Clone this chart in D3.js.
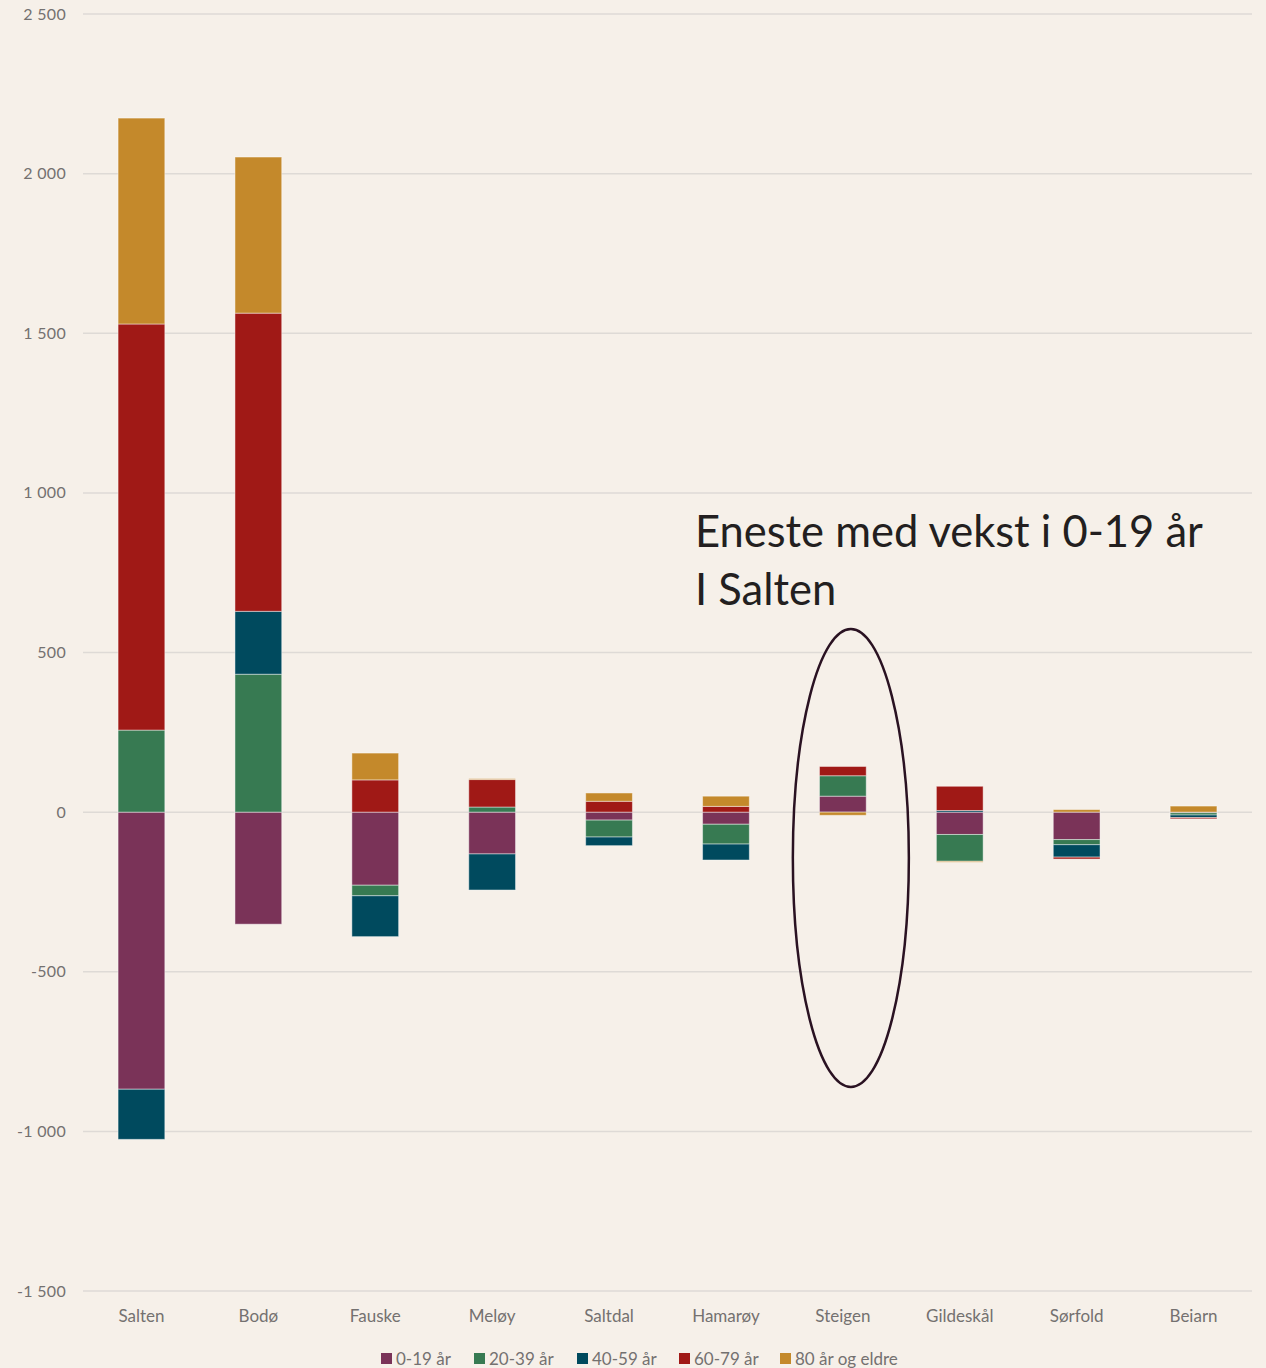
<!DOCTYPE html>
<html>
<head>
<meta charset="utf-8">
<title>Befolkningsendring Salten</title>
<script src="https://d3js.org/d3.v7.min.js"></script>
<style>
  html, body { margin: 0; padding: 0; background: #f6f0e9; }
  svg { display: block; font-family: "Lato", "Open Sans", sans-serif; }
</style>
</head>
<body>
<div id="chart"></div>
<script>
// data
const kommuner = ["Salten", "Bodø", "Fauske", "Meløy", "Saltdal", "Hamarøy", "Steigen", "Gildeskål", "Sørfold", "Beiarn"];
const grupper = ["0-19 år", "20-39 år", "40-59 år", "60-79 år", "80 år og eldre"];
const alder0_19  = [-868, -351, -229, -131, -25, -38,  50, -70, -86, -2];
const alder20_39 = [ 257,  432,  -33,   16, -53, -62,  64, -84, -16, -7];
const alder40_59 = [-157,  197, -128, -113, -27, -50,   0,   5, -39, -8];
const alder60_79 = [1272,  934,  101,   86,  34,  18,  29,  76,  -6, -4];
const alder80    = [ 645,  489,   84,    3,  26,  32, -10,  -3,   8, 19];
const yTicks = [-1500, -1000, -500, 0, 500, 1000, 1500, 2000, 2500];
const farger = ["#7a3358", "#377a52", "#004a5e", "#a01916", "#c4892b"];

const serier = [alder0_19, alder20_39, alder40_59, alder60_79, alder80];

const W = 1266, H = 1368;
const margin = {left: 83, right: 1252, top: 14, bottom: 1291};

const svg = d3.select("#chart").append("svg")
  .attr("width", W).attr("height", H);

svg.append("rect").attr("width", W).attr("height", H).attr("fill", "#f6f0e9");

const x = d3.scaleBand().domain(kommuner).range([margin.left, margin.right]).paddingInner(0.6).paddingOuter(0.3);
const y = d3.scaleLinear().domain([-1500, 2500]).range([margin.bottom, margin.top]);

// gridlines
svg.append("g").selectAll("line").data(yTicks).join("line")
  .attr("x1", margin.left).attr("x2", margin.right)
  .attr("y1", d => y(d)).attr("y2", d => y(d))
  .attr("stroke", "#dedad6").attr("stroke-width", 1.5);

// y axis labels, "2 500" / "-1 000" style
const fmt = d => (d < 0 ? "-" : "") + d3.format(",")(Math.abs(d)).replace(",", " ");
svg.append("g").selectAll("text").data(yTicks).join("text")
  .attr("x", 66).attr("y", d => y(d)).attr("dy", "0.35em")
  .attr("text-anchor", "end").attr("fill", "#747170").style("font-size", "16px")
  .style("letter-spacing", "0.3px")
  .text(d => fmt(d));

// stacked bars (positives up, negatives down, like Excel)
const rows = [];
kommuner.forEach((k, i) => {
  let pos = 0, neg = 0;
  serier.forEach((s, j) => {
    const v = s[i];
    if (v === 0) return;
    let y0, y1;
    if (v > 0) { y0 = pos; y1 = pos + v; pos = y1; }
    else { y0 = neg; y1 = neg + v; neg = y1; }
    rows.push({ k, j, y0, y1 });
  });
});

svg.append("g").selectAll("rect").data(rows).join("rect")
  .attr("x", d => x(d.k))
  .attr("width", x.bandwidth())
  .attr("y", d => y(Math.max(d.y0, d.y1)))
  .attr("height", d => Math.abs(y(d.y0) - y(d.y1)))
  .attr("fill", d => farger[d.j])
  .attr("stroke", "rgba(255,255,255,0.45)").attr("stroke-width", 1);

// x axis labels
const xAxis = svg.append("g").attr("transform", `translate(0,${margin.bottom})`)
  .call(d3.axisBottom(x).tickSize(0).tickPadding(19));
xAxis.select(".domain").remove();
xAxis.selectAll("text").attr("fill", "#747170").style("font-size", "17px")
  .style("font-family", "Lato, 'Open Sans', sans-serif");

// legend
const legX = [381, 474, 577, 679, 780];
const leg = svg.append("g");
grupper.forEach((g, i) => {
  leg.append("rect").attr("x", legX[i]).attr("y", 1353).attr("width", 11).attr("height", 11).attr("fill", farger[i]);
  leg.append("text").attr("x", legX[i] + 15).attr("y", 1365).attr("fill", "#747170")
    .style("font-size", "17px").text(g);
});

// annotation
svg.append("text").attr("x", 695).attr("y", 547).attr("fill", "#231f20")
  .style("font-size", "43.5px").text("Eneste med vekst i 0-19 år");
svg.append("text").attr("x", 695).attr("y", 605).attr("fill", "#231f20")
  .style("font-size", "43.5px").text("I Salten");

svg.append("ellipse")
  .attr("cx", x("Steigen") + x.bandwidth() / 2 + 8).attr("cy", 858)
  .attr("rx", 58).attr("ry", 229)
  .attr("fill", "none").attr("stroke", "#2a1222").attr("stroke-width", 2.5);
</script>
</body>
</html>
